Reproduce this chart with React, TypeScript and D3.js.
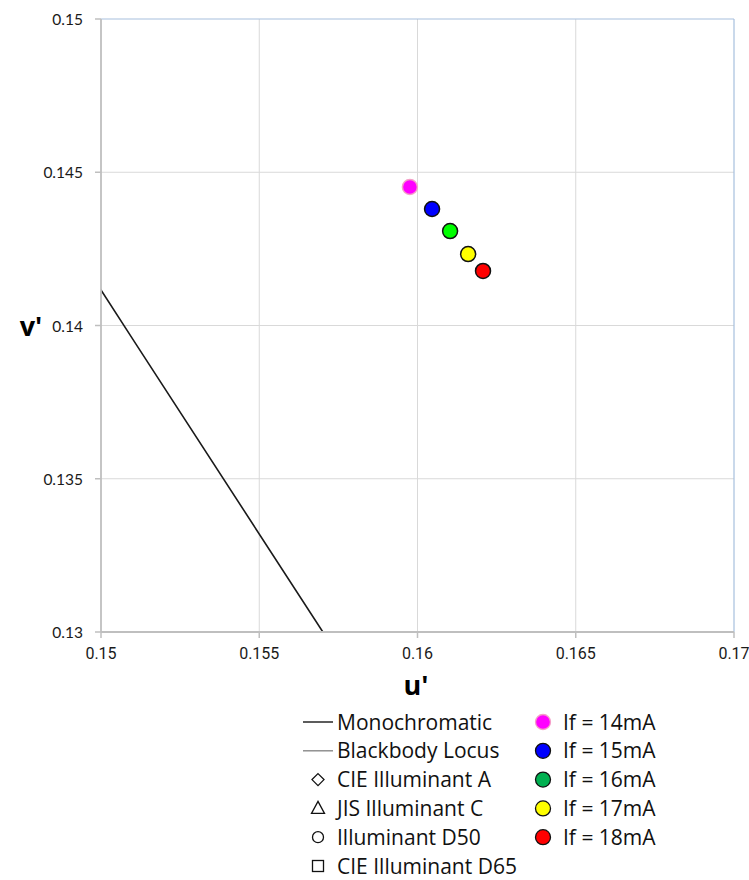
import React, { useEffect, useRef } from "react";
import * as d3 from "d3";

// chromaticity points per forward current
const currentLabels = ["If = 14mA", "If = 15mA", "If = 16mA", "If = 17mA", "If = 18mA"];
const uValues = [0.15976, 0.16046, 0.16103, 0.1616, 0.16207];
const vValues = [0.14452, 0.1438, 0.14308, 0.14233, 0.14178];
const pointColors = ["#ff00ff", "#0000ff", "#00ff00", "#ffff00", "#ff0000"];
const legendColors = ["#ff00ff", "#0000ff", "#00b050", "#ffff00", "#ff0000"];

// spectral locus segment visible in the window
const monoU = [0.1495, 0.15, 0.1511, 0.15701, 0.1572];
const monoV = [0.1419, 0.14116, 0.1394, 0.13, 0.1297];

const xTicks = [0.15, 0.155, 0.16, 0.165, 0.17];
const yTicks = [0.13, 0.135, 0.14, 0.145, 0.15];

const lineLegend = ["Monochromatic", "Blackbody Locus"];
const markerLegend = ["CIE Illuminant A", "JIS Illuminant C", "Illuminant D50", "CIE Illuminant D65"];

const App = () => {
  const svgRef = useRef<SVGSVGElement | null>(null);

  useEffect(() => {
    if (!svgRef.current) return;
    const svg = d3.select(svgRef.current);
    svg.selectAll("*").remove();

    const width = 749;
    const height = 880;
    const left = 101, right = 734, top = 19, bottom = 632;
    const font = "'Open Sans', 'Noto Sans', sans-serif";

    svg.attr("width", width).attr("height", height)
      .style("position", "absolute").style("left", 0).style("top", 0)
      .style("background", "#fff");

    const x = d3.scaleLinear().domain([0.15, 0.17]).range([left, right]);
    const y = d3.scaleLinear().domain([0.13, 0.15]).range([bottom, top]);

    // gridlines
    const grid = svg.append("g");
    grid.selectAll("line.vx").data(xTicks.slice(1, -1)).enter().append("line")
      .attr("x1", d => x(d)).attr("x2", d => x(d))
      .attr("y1", top).attr("y2", bottom)
      .attr("stroke", "#d9d9d9").attr("stroke-width", 1);
    grid.selectAll("line.hy").data(yTicks.slice(1, -1)).enter().append("line")
      .attr("y1", d => y(d)).attr("y2", d => y(d))
      .attr("x1", left).attr("x2", right)
      .attr("stroke", "#d9d9d9").attr("stroke-width", 1);

    // top / right border
    svg.append("line").attr("x1", left).attr("x2", right).attr("y1", top).attr("y2", top)
      .attr("stroke", "#a7c0de").attr("stroke-width", 1.2);
    svg.append("line").attr("x1", right).attr("x2", right).attr("y1", top).attr("y2", bottom)
      .attr("stroke", "#a7c0de").attr("stroke-width", 1.2);

    // clip for the locus
    svg.append("defs").append("clipPath").attr("id", "plotclip")
      .append("rect").attr("x", left).attr("y", top)
      .attr("width", right - left).attr("height", bottom - top);

    const line = d3.line<number>()
      .x((_, i) => x(monoU[i]))
      .y((_, i) => y(monoV[i]));
    svg.append("path")
      .datum(monoU)
      .attr("d", line)
      .attr("clip-path", "url(#plotclip)")
      .attr("fill", "none")
      .attr("stroke", "#1a1a1a")
      .attr("stroke-width", 1.6);

    // axes
    svg.append("line").attr("x1", left).attr("x2", left).attr("y1", top).attr("y2", bottom)
      .attr("stroke", "#bfbfbf").attr("stroke-width", 1.8);
    svg.append("line").attr("x1", left).attr("x2", right).attr("y1", bottom).attr("y2", bottom)
      .attr("stroke", "#bfbfbf").attr("stroke-width", 1.8);

    svg.selectAll("line.ytick").data(yTicks).enter().append("line")
      .attr("x1", left - 6).attr("x2", left).attr("y1", d => y(d)).attr("y2", d => y(d))
      .attr("stroke", "#bfbfbf").attr("stroke-width", 1.5);
    svg.selectAll("line.xtick").data(xTicks).enter().append("line")
      .attr("y1", bottom).attr("y2", bottom + 6).attr("x1", d => x(d)).attr("x2", d => x(d))
      .attr("stroke", "#bfbfbf").attr("stroke-width", 1.5);

    svg.selectAll("text.ylab").data(yTicks).enter().append("text")
      .attr("x", left - 18).attr("y", d => y(d) + 6)
      .attr("text-anchor", "end")
      .attr("font-family", "Lato, 'Open Sans', sans-serif").attr("font-size", 15.5).attr("fill", "#1a1a1a")
      .text(d => String(d));
    svg.selectAll("text.xlab").data(xTicks).enter().append("text")
      .attr("x", d => x(d)).attr("y", 659)
      .attr("text-anchor", "middle")
      .attr("font-family", "Roboto, sans-serif").attr("font-size", 16).attr("fill", "#1a1a1a")
      .text(d => String(d));

    // axis titles
    svg.append("text").attr("x", 416).attr("y", 695)
      .attr("text-anchor", "middle").attr("font-family", font)
      .attr("font-size", 27).attr("font-weight", "bold").text("u'");
    svg.append("text").attr("x", 31).attr("y", 336)
      .attr("text-anchor", "middle").attr("font-family", font)
      .attr("font-size", 27).attr("font-weight", "bold").text("v'");

    // data points
    svg.selectAll("circle.pt").data(uValues).enter().append("circle")
      .attr("cx", d => x(d))
      .attr("cy", (_, i) => y(vValues[i]))
      .attr("r", 7.5)
      .attr("fill", (_, i) => pointColors[i])
      .attr("stroke", (_, i) => (i === 0 ? "#f5a0c8" : "#111"))
      .attr("stroke-width", 1.5);

    // legend
    const rowY = (i: number) => 722 + i * 28.8;
    const leg = svg.append("g").attr("font-family", font).attr("font-size", 21).attr("fill", "#111");

    lineLegend.forEach((name, i) => {
      leg.append("line").attr("x1", 303).attr("x2", 333).attr("y1", rowY(i)).attr("y2", rowY(i))
        .attr("stroke", i === 0 ? "#333" : "#888").attr("stroke-width", i === 0 ? 1.6 : 1.4);
      leg.append("text").attr("x", 337).attr("y", rowY(i) + 7.5).text(name);
    });

    const mk = ["diamond", "triangle", "circle", "square"];
    markerLegend.forEach((name, j) => {
      const i = j + 2;
      const cy = rowY(i);
      const cx = 318;
      const g = leg.append("g").attr("fill", "none").attr("stroke", "#111").attr("stroke-width", 1.3);
      if (mk[j] === "diamond") {
        g.append("path").attr("d", `M${cx},${cy - 6}L${cx + 6},${cy}L${cx},${cy + 6}L${cx - 6},${cy}Z`);
      } else if (mk[j] === "triangle") {
        g.append("path").attr("d", `M${cx},${cy - 7}L${cx + 6.5},${cy + 5}L${cx - 6.5},${cy + 5}Z`);
      } else if (mk[j] === "circle") {
        g.append("circle").attr("cx", cx).attr("cy", cy).attr("r", 5.5);
      } else {
        g.append("rect").attr("x", cx - 5.5).attr("y", cy - 5.5).attr("width", 11).attr("height", 11);
      }
      leg.append("text").attr("x", 337).attr("y", cy + 7.5).text(name);
    });

    currentLabels.forEach((name, i) => {
      leg.append("circle").attr("cx", 543).attr("cy", rowY(i)).attr("r", 7.5)
        .attr("fill", legendColors[i])
        .attr("stroke", i === 0 ? "#f5a0c8" : "#111").attr("stroke-width", 1.3);
      leg.append("text").attr("x", 563).attr("y", rowY(i) + 7.5).text(name);
    });
  }, []);

  return <svg ref={svgRef}></svg>;
};

export default App;
